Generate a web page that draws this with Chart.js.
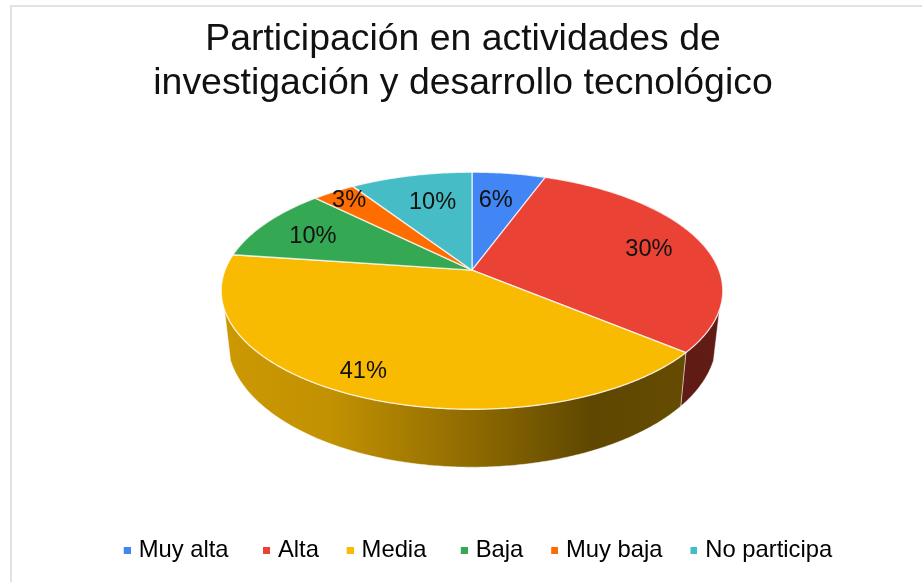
<!DOCTYPE html>
<html>
<head>
<meta charset="utf-8">
<style>
html,body{margin:0;padding:0;background:#fff;}
#wrap{position:absolute;left:0;top:0;width:922px;height:582px;}
</style>
<script src="https://cdn.jsdelivr.net/npm/chart.js@4/dist/chart.umd.js"></script>
</head>
<body>
<div id="wrap"><canvas id="c" width="922" height="582"></canvas></div>
<script>
const titleLines = ['Participación en actividades de', 'investigación y desarrollo tecnológico'];
const categories = ['Muy alta', 'Alta', 'Media', 'Baja', 'Muy baja', 'No participa'];
const shares = [5.6, 30.4, 41.2, 10.2, 3.3, 9.3];
const shareLabels = ['6%', '30%', '41%', '10%', '3%', '10%'];
const sliceColors = ['#4285F4', '#EA4335', '#F9BA02', '#34A853', '#FF6D01', '#46BDC6'];

const FONT = '"Liberation Sans", Arial, sans-serif';
const TEXT = '#111111';
const RADIUS = 210;
const OFFSET = {x: 11, y: -47};
// perspective of the disc, as ratios of the radius
const TOP_RIM = {ax: 247 / 210, ay: 115 / 210, k: 0.173, dy: 0};
const BOTTOM_RIM = {ax: 241 / 210, ay: 123.6 / 210, k: 0.173, dy: 47.5 / 210};
const WALL_RANGE = [19 * Math.PI / 180, 161 * Math.PI / 180];
const WALL_SHADE = [[0, 0.82], [0.22, 0.78], [0.5, 0.57], [0.74, 0.38], [1, 0.42]];
const LABEL_NUDGE = [[-5, 5.5], [4, 1.5], [-24, 11.5], [-2, 2.5], [-16, -9.5], [8, 5.5]];
const LEGEND_TRAIL = ['\u0020', '', '\u0020', '', '', ''];

function shade(hex, f) {
  const n = parseInt(hex.slice(1), 16);
  const c = [(n >> 16) & 255, (n >> 8) & 255, n & 255].map(v => Math.round(v * f));
  return 'rgb(' + c.join(',') + ')';
}
function project(el, angle, f, rim) {
  const {x, y, outerRadius: r} = el.getProps(['x', 'y', 'outerRadius'], true);
  const u = Math.cos(angle) * f, v = Math.sin(angle) * f;
  const d = 1 - rim.k * v;
  return [x + OFFSET.x + r * rim.ax * u / d, y + OFFSET.y + r * rim.dy + r * rim.ay * v / d];
}
function rimPath(ctx, el, a0, a1, rim, first) {
  const n = Math.max(2, Math.ceil(Math.abs(a1 - a0) / 0.01));
  for (let i = 0; i <= n; i++) {
    const p = project(el, a0 + (a1 - a0) * i / n, 1, rim);
    if (i === 0 && first) ctx.moveTo(p[0], p[1]); else ctx.lineTo(p[0], p[1]);
  }
}
class Pie3DArc extends Chart.ArcElement {
  static id = 'arc3d';
  static defaults = Chart.ArcElement.defaults;
  draw(ctx) {
    const {x, y, startAngle, endAngle, outerRadius: r} =
      this.getProps(['x', 'y', 'startAngle', 'endAngle', 'outerRadius'], true);
    const color = this.options.backgroundColor;
    ctx.save();
    const w0 = Math.max(startAngle, WALL_RANGE[0]), w1 = Math.min(endAngle, WALL_RANGE[1]);
    if (w1 > w0) {
      const half = r * TOP_RIM.ax * 1.016, cx = x + OFFSET.x;
      const g = ctx.createLinearGradient(cx - half, 0, cx + half, 0);
      WALL_SHADE.forEach(s => g.addColorStop(s[0], shade(color, s[1])));
      ctx.beginPath();
      rimPath(ctx, this, w0, w1, TOP_RIM, true);
      rimPath(ctx, this, w1, w0, BOTTOM_RIM, false);
      ctx.closePath();
      ctx.fillStyle = g;
      ctx.fill();
      ctx.lineWidth = 0.8;
      ctx.strokeStyle = 'rgba(255,255,255,0.55)';
      ctx.stroke();
    }
    const apex = project(this, 0, 0, TOP_RIM);
    ctx.beginPath();
    ctx.moveTo(apex[0], apex[1]);
    rimPath(ctx, this, startAngle, endAngle, TOP_RIM, false);
    ctx.closePath();
    ctx.fillStyle = color;
    ctx.fill();
    ctx.lineWidth = this.options.borderWidth;
    ctx.lineJoin = 'round';
    ctx.strokeStyle = this.options.borderColor;
    ctx.stroke();
    ctx.restore();
  }
}
class Pie3DController extends Chart.PieController {
  static id = 'pie3d';
  static defaults = {dataElementType: 'arc3d'};
}
Chart.register(Pie3DArc, Pie3DController);

function swatch(color) {
  const s = document.createElement('canvas');
  s.width = 9; s.height = 7;
  const c = s.getContext('2d');
  c.fillStyle = color;
  c.fillRect(2, 0, 7, 7);
  return s;
}
const frame = {
  id: 'frame',
  beforeDraw(chart) {
    const c = chart.ctx;
    c.save();
    c.fillStyle = '#ffffff';
    c.fillRect(0, 0, chart.width, chart.height);
    c.fillStyle = '#e2e2e2';
    c.fillRect(10, 5, chart.width - 10, 2);
    c.fillRect(10, 5, 2, chart.height - 5);
    c.restore();
  },
  afterLayout(chart) {
    chart.titleBlock.left += 2; chart.titleBlock.right += 2;
    chart.legend.left += 18; chart.legend.right += 18;
    chart.legend.top -= 9.5; chart.legend.bottom -= 9.5;
  }
};
const sliceLabels = {
  id: 'sliceLabels',
  afterDatasetsDraw(chart) {
    const c = chart.ctx;
    c.save();
    c.font = '23.6px ' + FONT;
    c.fillStyle = TEXT;
    c.textAlign = 'center';
    c.textBaseline = 'middle';
    chart.getDatasetMeta(0).data.forEach((el, i) => {
      const {startAngle, endAngle} = el.getProps(['startAngle', 'endAngle'], true);
      const p = project(el, (startAngle + endAngle) / 2, 0.75, TOP_RIM);
      c.fillText(shareLabels[i], p[0] + LABEL_NUDGE[i][0], p[1] + LABEL_NUDGE[i][1]);
    });
    c.restore();
  }
};

new Chart(document.getElementById('c'), {
  type: 'pie3d',
  data: {
    labels: categories,
    datasets: [{
      data: shares,
      backgroundColor: sliceColors,
      borderColor: 'rgba(255,255,255,0.75)',
      borderWidth: 1.3,
      radius: RADIUS
    }]
  },
  options: {
    responsive: false,
    animation: false,
    devicePixelRatio: 1,
    plugins: {
      tooltip: {enabled: false},
      title: {
        display: true,
        text: titleLines,
        color: TEXT,
        font: {family: FONT, size: 37.4, weight: 'normal', lineHeight: 1.19},
        padding: {top: 17, bottom: 10}
      },
      legend: {
        display: true,
        position: 'bottom',
        labels: {
          color: TEXT,
          font: {family: FONT, size: 23.8},
          usePointStyle: true,
          pointStyleWidth: 1,
          padding: 29.8,
          generateLabels: () => categories.map((name, i) => ({
            text: name + LEGEND_TRAIL[i],
            fillStyle: sliceColors[i],
            strokeStyle: sliceColors[i],
            lineWidth: 0,
            pointStyle: swatch(sliceColors[i]),
            index: i,
            hidden: false
          }))
        }
      }
    }
  },
  plugins: [frame, sliceLabels]
});
</script>
</body>
</html>
